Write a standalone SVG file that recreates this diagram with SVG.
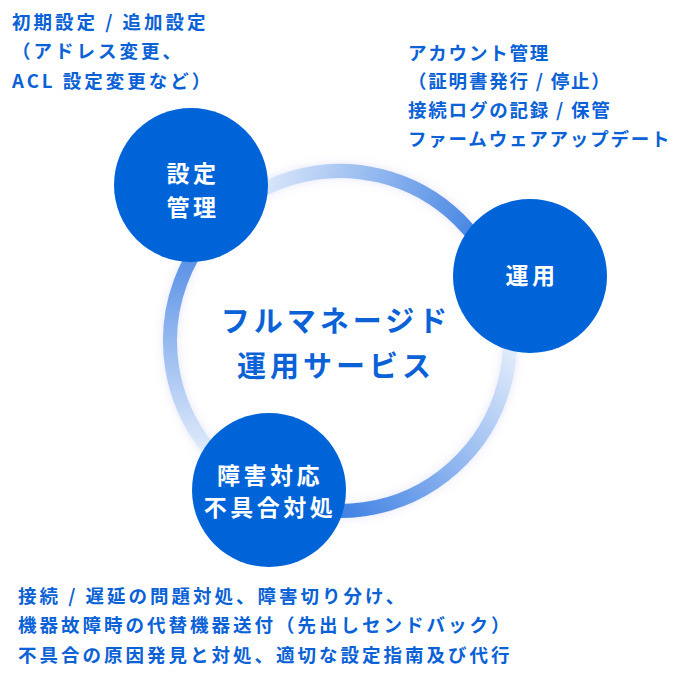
<svg xmlns="http://www.w3.org/2000/svg" width="680" height="680" viewBox="0 0 680 680">
<style>
text{font-family:"Noto Sans CJK JP","Noto Sans",sans-serif;font-weight:bold}
.d{fill:#0a62d6;font-size:18.5px;letter-spacing:3px}
.u{letter-spacing:1.8px}
.w{fill:#fff;font-size:23px;letter-spacing:3.5px;text-anchor:middle}
.c{fill:#0a62d6;font-size:29px;letter-spacing:4px;text-anchor:middle}
.n{fill:#0064d9}
.r{fill:none;stroke-width:14}
</style>
<defs>
<linearGradient id="g1" gradientUnits="userSpaceOnUse" x1="240" y1="200" x2="480" y2="270"><stop offset="0" stop-color="#e6effc"/><stop offset="1" stop-color="#3d7fe2"/></linearGradient>
<linearGradient id="g2" gradientUnits="userSpaceOnUse" x1="505" y1="330" x2="320" y2="500"><stop offset="0" stop-color="#e6effc"/><stop offset="1" stop-color="#3d7fe2"/></linearGradient>
<linearGradient id="g3" gradientUnits="userSpaceOnUse" x1="190" y1="460" x2="200" y2="260"><stop offset="0" stop-color="#e6effc"/><stop offset="1" stop-color="#5b92e6"/></linearGradient>
<filter id="glow" x="-20%" y="-20%" width="140%" height="140%"><feGaussianBlur in="SourceAlpha" stdDeviation="5"/><feColorMatrix values="0 0 0 0 0.45 0 0 0 0 0.45 0 0 0 0 0.85 0 0 0 0.35 0"/><feMerge><feMergeNode/><feMergeNode in="SourceGraphic"/></feMerge></filter>
</defs>
<rect width="680" height="680" fill="#fff"/>
<g id="connectors" filter="url(#glow)">
<path class="r" stroke="url(#g1)" d="M222.5,218.1 A170 170 0 0 1 500.8,285.9"/>
<path class="r" stroke="url(#g2)" d="M500.8,285.9 A170 170 0 0 1 266.8,494.4"/>
<path class="r" stroke="url(#g3)" d="M266.8,494.4 A170 170 0 0 1 222.5,218.1"/>
</g>
<g id="center"><text class="c" x="336" y="332">フルマネージド</text><text class="c" x="336" y="377">運用サービス</text></g>
<g id="settei"><circle class="n" cx="191" cy="185" r="77"/><text class="w" x="193" y="182">設定</text><text class="w" x="193" y="216">管理</text></g>
<g id="unyou"><circle class="n" cx="530" cy="276" r="77"/><text class="w" x="532" y="284">運用</text></g>
<g id="shougai"><circle class="n" cx="269" cy="490" r="77"/><text class="w" x="270" y="484">障害対応</text><text class="w" x="270" y="516">不具合対処</text></g>
<g id="desc-settei"><text class="d" x="12" y="29">初期設定 / 追加設定</text><text class="d" x="12" y="58">（アドレス変更、</text><text class="d" x="12" y="88">ACL 設定変更など）</text></g>
<g id="desc-unyou"><text class="d u" x="408" y="60">アカウント管理</text><text class="d u" x="408" y="88">（証明書発行 / 停止）</text><text class="d u" x="408" y="117">接続ログの記録 / 保管</text><text class="d u" x="408" y="146">ファームウェアアップデート</text></g>
<g id="desc-shougai"><text class="d" x="18" y="603">接続 / 遅延の問題対処、障害切り分け、</text><text class="d" x="18" y="632">機器故障時の代替機器送付（先出しセンドバック）</text><text class="d" x="18" y="662">不具合の原因発見と対処、適切な設定指南及び代行</text></g>
</svg>
